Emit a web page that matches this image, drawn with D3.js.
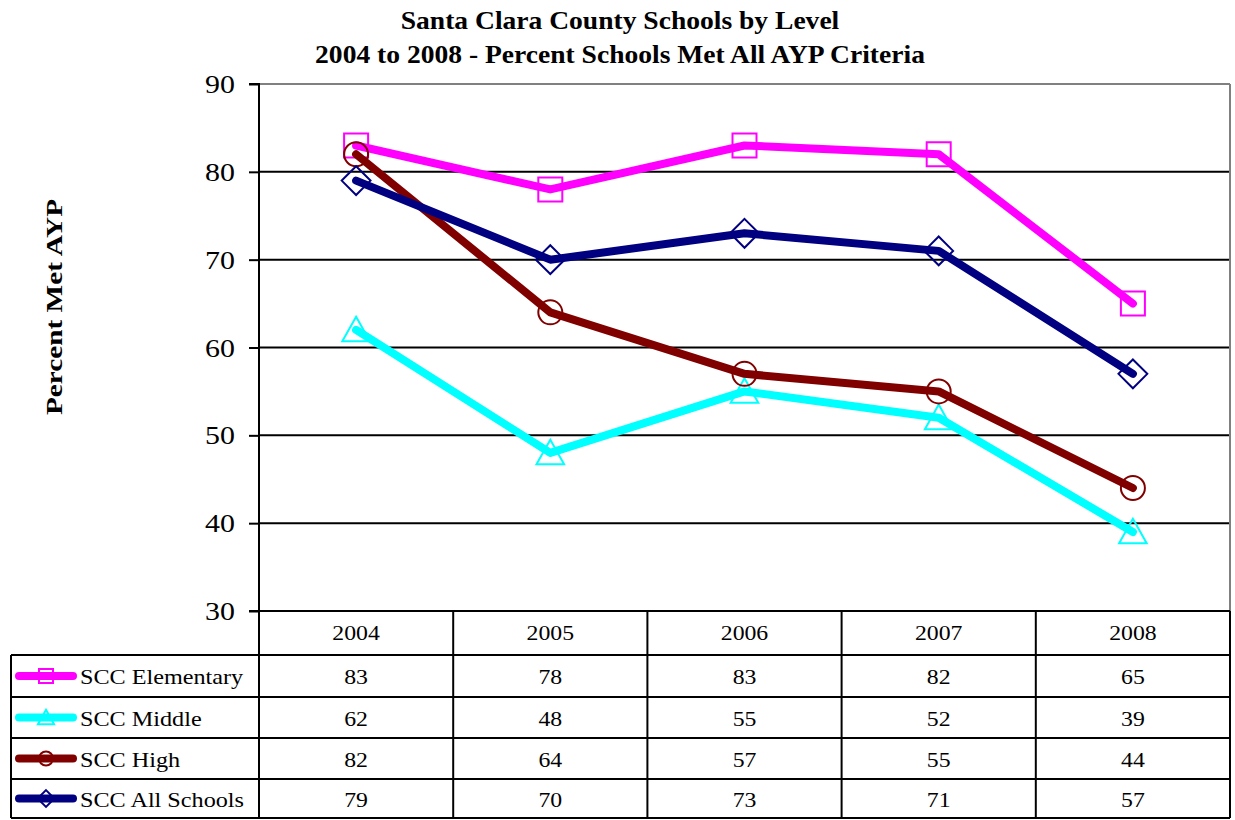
<!DOCTYPE html>
<html><head><meta charset="utf-8">
<script src="https://cdn.jsdelivr.net/npm/d3@7"></script>
<style>body{margin:0;background:#fff}svg{display:block}</style>
</head><body>
<script>
const years = ["2004","2005","2006","2007","2008"];
const seriesNames = ["SCC Elementary","SCC Middle","SCC High","SCC All Schools"];
const elementary = [83,78,83,82,65];
const middle = [62,48,55,52,39];
const high = [82,64,57,55,44];
const allSchools = [79,70,73,71,57];
const colors = ["#ff00ff","#00ffff","#800000","#000080"];
const markers = ["square","triangle","circle","diamond"];
const yTicks = [30,40,50,60,70,80,90];
const seriesValues = [elementary, middle, high, allSchools];

const W=1235,H=820;
const pLeft=259,pRight=1230,pTop=84,pBottom=611;
const font="'Liberation Serif','Times New Roman',serif";
const svg=d3.select("body").append("svg").attr("width",W).attr("height",H);

const x=d3.scaleBand().domain(years).range([pLeft,pRight]);
const y=d3.scaleLinear().domain([30,90]).range([pBottom,pTop]);

function addText(g,tx,ty,str,size,sx,anchor,weight,rot){
  return g.append("text")
    .attr("transform",`translate(${tx},${ty})${rot?` rotate(${rot})`:""} scale(${sx},1)`)
    .attr("text-anchor",anchor||"start").attr("font-family",font)
    .attr("font-weight",weight||"normal").attr("font-size",size).attr("fill","#000").text(str);
}

// title
addText(svg,620,29,"Santa Clara County Schools by Level",26,1.06,"middle","bold");
addText(svg,620,63,"2004 to 2008 - Percent Schools Met All AYP Criteria",26,1.06,"middle","bold");

// gridlines
svg.append("g").selectAll("line").data(yTicks.filter(t=>t>30&&t<90)).join("line")
  .attr("x1",pLeft).attr("x2",pRight).attr("y1",d=>y(d)).attr("y2",d=>y(d))
  .attr("stroke","#000").attr("stroke-width",2);
svg.append("line").attr("x1",pLeft).attr("x2",pRight).attr("y1",y(90)).attr("y2",y(90)).attr("stroke","#808080").attr("stroke-width",2);
svg.append("line").attr("x1",pRight).attr("x2",pRight).attr("y1",y(90)).attr("y2",y(30)).attr("stroke","#808080").attr("stroke-width",2);

// y axis
const ya=svg.append("g").attr("transform",`translate(${pLeft},0)`)
  .call(d3.axisLeft(y).tickValues(yTicks).tickSize(10).tickPadding(6));
ya.select(".domain").attr("stroke","#000").attr("stroke-width",2).attr("d",`M-10,${y(90)}H0V${y(30)}H-10`);
ya.selectAll(".tick line").attr("stroke","#000").attr("stroke-width",2);
ya.selectAll(".tick text").remove();
yTicks.forEach(t=>addText(svg,pLeft-24,y(t)+9,String(t),26,1.15,"end"));

addText(svg,62,307,"Percent Met AYP",24,1.22,"middle","bold",-90);

// lines
const line=d3.line().x((d,i)=>x(years[i])+x.bandwidth()/2).y(d=>y(d));
function drawMarker(g,type,cx,cy,color,s){
  const m=g.append("path").attr("fill","none").attr("stroke",color).attr("stroke-width",2);
  if(type==="square") m.attr("d",`M${cx-s},${cy-s}h${2*s}v${2*s}h${-2*s}Z`);
  else if(type==="triangle") m.attr("d",`M${cx},${cy-s*1.1}L${cx+s*1.15},${cy+s*0.95}L${cx-s*1.15},${cy+s*0.95}Z`);
  else if(type==="circle") m.attr("d",`M${cx-s},${cy}a${s},${s} 0 1,0 ${2*s},0a${s},${s} 0 1,0 ${-2*s},0`);
  else m.attr("d",`M${cx},${cy-s*1.2}L${cx+s*1.2},${cy}L${cx},${cy+s*1.2}L${cx-s*1.2},${cy}Z`);
}
seriesValues.forEach((vals,k)=>{
  const g=svg.append("g");
  g.append("path").datum(vals).attr("d",line).attr("fill","none").attr("stroke",colors[k])
    .attr("stroke-width",8).attr("stroke-linecap","round").attr("stroke-linejoin","round");
  vals.forEach((v,i)=>drawMarker(g,markers[k],x(years[i])+x.bandwidth()/2,y(v),colors[k],12));
});

// data table
const tLeft=11, rowY=[611,655,697,738,779,818];
const tg=svg.append("g");
years.forEach((yr,i)=>{
  if(i>0) tg.append("line").attr("x1",x(yr)).attr("x2",x(yr)).attr("y1",rowY[0]).attr("y2",rowY[5]).attr("stroke","#000").attr("stroke-width",2);
  addText(tg,x(yr)+x.bandwidth()/2,(rowY[0]+rowY[1])/2+7,yr,22,1.08,"middle");
});
tg.append("line").attr("x1",pLeft).attr("x2",pLeft).attr("y1",rowY[0]).attr("y2",rowY[5]).attr("stroke","#000").attr("stroke-width",2);
tg.append("line").attr("x1",pRight).attr("x2",pRight).attr("y1",rowY[0]).attr("y2",rowY[5]).attr("stroke","#000").attr("stroke-width",2);
tg.append("line").attr("x1",tLeft).attr("x2",tLeft).attr("y1",rowY[1]).attr("y2",rowY[5]).attr("stroke","#000").attr("stroke-width",2);
tg.append("line").attr("x1",pLeft).attr("x2",pRight).attr("y1",rowY[0]).attr("y2",rowY[0]).attr("stroke","#000").attr("stroke-width",2);
for(let r=1;r<=5;r++) tg.append("line").attr("x1",tLeft).attr("x2",pRight).attr("y1",rowY[r]).attr("y2",rowY[r]).attr("stroke","#000").attr("stroke-width",2);
seriesValues.forEach((vals,k)=>{
  const cy=(rowY[k+1]+rowY[k+2])/2;
  tg.append("line").attr("x1",19).attr("x2",73).attr("y1",cy).attr("y2",cy).attr("stroke",colors[k]).attr("stroke-width",8).attr("stroke-linecap","round");
  drawMarker(tg,markers[k],46,cy,colors[k],7);
  addText(tg,80,cy+8,seriesNames[k],22,1.1,"start");
  vals.forEach((v,i)=>addText(tg,x(years[i])+x.bandwidth()/2,cy+8,String(v),22,1.08,"middle"));
});
</script>
</body></html>
